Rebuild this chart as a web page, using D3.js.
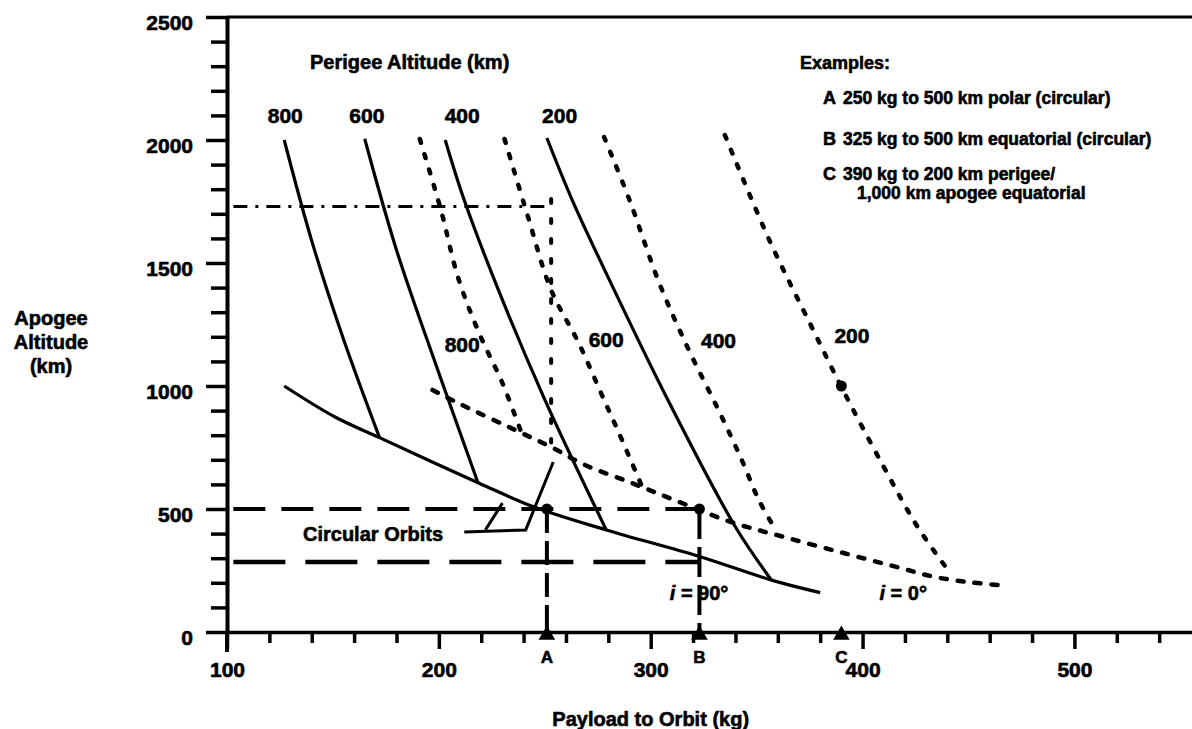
<!DOCTYPE html>
<html>
<head>
<meta charset="utf-8">
<script src="https://cdn.jsdelivr.net/npm/d3@7"></script>
<style>
  html, body { margin: 0; padding: 0; background: #fff; }
  svg { display: block; }
  text {
    font-family: "Liberation Sans", Arial, Helvetica, sans-serif;
    font-weight: bold; fill: #000;
    stroke: #000; stroke-width: 0.6px; paint-order: stroke;
  }
</style>
</head>
<body>
<svg id="chart" width="1192" height="729"></svg>
<script>
/* Payload to orbit vs apogee altitude: polar (solid) and equatorial (dotted) perigee curves */

// Perigee altitudes (km) labelling each family of curves
const perigees = [800, 600, 400, 200];

// Polar orbits (i = 90°), [payload kg, apogee km]
const polar800 = [[127, 2000], [140, 1590], [155, 1190], [172, 790]];
const polar600 = [[165, 2005], [180, 1553], [199.5, 1065], [218.5, 606]];
const polar400 = [[203, 2000], [212, 1755], [230, 1350], [250, 945], [279, 415]];
const polar200 = [[251, 2008], [263, 1755], [285, 1350], [308, 945], [340, 427], [357, 211]];
const polarCircular = [[127, 1000], [151, 874], [172, 790], [219, 605], [245, 508], [279, 415], [323, 307], [357, 211], [380, 160]];

// Equatorial orbits (i = 0°), [payload kg, apogee km]
const equat800 = [[191, 2004], [201, 1715], [209, 1443], [219, 1215], [230, 1012], [239, 809]];
const equat600 = [[231, 2004], [242, 1690], [253, 1390], [266, 1175], [278, 943], [285, 809], [296, 589]];
const equat400 = [[278, 2012], [290, 1756], [304, 1419], [318, 1146], [332, 902], [343, 699], [351, 537], [359, 415]];
const equat200 = [[335, 2020], [356, 1593], [376, 1240], [390, 996], [410, 671], [426, 427], [442, 232]];
const equatCircular = [[197, 984], [209, 931], [239, 809], [253, 752], [269, 679], [291, 606], [311, 537],
  [338, 447], [363, 386], [391, 321], [418, 260], [434, 224], [450, 203], [464, 191]];

// Worked examples: payload kg, altitude km
const exampleNames = ['A', 'B', 'C'];
const examplePayload = [251, 323, 390];
const exampleAltitude = [500, 500, 1000];
const exampleTexts = [
  ['250 kg to 500 km polar (circular)'],
  ['325 kg to 500 km equatorial (circular)'],
  ['390 kg to 200 km perigee/', '1,000 km apogee equatorial'],
];

// Reading guides
const guideDashDot = [[103, 1730], [253, 1730]];
const guideVertical = [[253, 1760], [253, 770]];
const guide500 = [[103, 500], [323, 500]];
const guide285 = [[103, 285], [323, 285]];

// "Circular Orbits" leader lines
const leaderMain = [[212, 407], [241, 415], [254, 691]];
const leaderShort = [[222, 415], [230, 524]];

// Label anchors [kg, km]
const topLabelAt = [[127.5, 2070], [166, 2070], [211, 2070], [257, 2070]];
const midLabelAt = [[211, 1140], [279, 1160], [332, 1156], [395, 1176]];

// Axis ticks
const yTicks = d3.range(0, 2501, 100);
const xTicks = d3.range(100, 541, 20);

const svg = d3.select('#chart');

const x = d3.scaleLinear().domain([100, 555.5]).range([227, 1192]);
const y = d3.scaleLinear().domain([0, 2500]).range([632, 17]);

const line = d3.line().x(d => x(d[0])).y(d => y(d[1])).curve(d3.curveCatmullRom.alpha(0.5));
const straight = d3.line().x(d => x(d[0])).y(d => y(d[1]));

// ============================================================
// Axes
// ============================================================

const gy = svg.append('g')
  .attr('transform', `translate(${x(100)},0)`)
  .call(d3.axisLeft(y).tickValues(yTicks).tickSizeInner(16).tickSizeOuter(0).tickPadding(18)
    .tickFormat(d => d % 500 === 0 ? d : ''));
gy.attr('font-family', null).attr('font-size', null);
gy.select('.domain').attr('stroke-width', 4);
gy.selectAll('.tick line').attr('stroke-width', 3.5);
gy.selectAll('.tick line').filter(d => d % 500 === 0).attr('x2', -21);
gy.selectAll('.tick text').attr('font-size', 21).attr('dy', '0.58em');
gy.append('line').attr('x1', 0).attr('x2', 0).attr('y1', y(0)).attr('y2', y(0) + 20)
  .attr('stroke', '#000').attr('stroke-width', 4);

const gx = svg.append('g')
  .attr('transform', `translate(0,${y(0)})`)
  .call(d3.axisBottom(x).tickValues(xTicks).tickSizeInner(11).tickSizeOuter(0)
    .tickFormat(d => d % 100 === 0 ? d : ''));
gx.attr('font-family', null).attr('font-size', null);
gx.select('.domain').attr('stroke-width', 3.5);
gx.selectAll('.tick line').attr('stroke-width', 3.5);
gx.selectAll('.tick line').filter(d => d % 100 === 0).attr('y2', 17);
gx.selectAll('.tick text').attr('font-size', 21).attr('y', 45).attr('dy', 0);

// top frame line
svg.append('line')
  .attr('x1', x(100)).attr('x2', x(555.5)).attr('y1', y(2500)).attr('y2', y(2500))
  .attr('stroke', '#000').attr('stroke-width', 3);

// axis titles
svg.append('text').attr('x', 51).attr('font-size', 20).attr('text-anchor', 'middle')
  .selectAll('tspan').data(['Apogee', 'Altitude', '(km)']).join('tspan')
  .attr('x', 51).attr('y', (d, i) => 325 + i * 24).text(d => d);

svg.append('text').attr('x', x(300)).attr('y', 726).attr('font-size', 20)
  .attr('text-anchor', 'middle').text('Payload to Orbit (kg)');

// ============================================================
// Curves
// ============================================================

const solidSets = [polar800, polar600, polar400, polar200, polarCircular];
const dottedSets = [equat800, equat600, equat400, equat200];

svg.append('g').selectAll('path').data(solidSets).join('path')
  .attr('d', line).attr('fill', 'none').attr('stroke', '#000').attr('stroke-width', 3.2)
  .attr('stroke-linejoin', 'round');

svg.append('g').selectAll('path').data(dottedSets).join('path')
  .attr('d', line).attr('fill', 'none').attr('stroke', '#000').attr('stroke-width', 4.5)
  .attr('stroke-dasharray', '4 12').attr('stroke-linecap', 'round');

svg.append('path').datum(equatCircular)
  .attr('d', line).attr('fill', 'none').attr('stroke', '#000').attr('stroke-width', 4.5)
  .attr('stroke-dasharray', '6 11').attr('stroke-linecap', 'round');

// ============================================================
// Guides and example markers
// ============================================================

const guides = [
  { pts: guideDashDot, w: 3, dash: '14 8 3 8', cap: 'butt' },
  { pts: guideVertical, w: 4, dash: '4 16', cap: 'round' },
  { pts: guide500, w: 4, dash: '32 16', cap: 'butt' },
  { pts: guide285, w: 4.5, dash: '52 20', cap: 'butt' },
  { pts: [[examplePayload[0], exampleAltitude[0]], [examplePayload[0], 0]], w: 4, dash: '24 8', cap: 'butt' },
  { pts: [[examplePayload[1], exampleAltitude[1]], [examplePayload[1], 0]], w: 4, dash: '30 8', cap: 'butt' },
];
svg.append('g').selectAll('path').data(guides).join('path')
  .attr('d', d => straight(d.pts)).attr('fill', 'none').attr('stroke', '#000')
  .attr('stroke-width', d => d.w).attr('stroke-dasharray', d => d.dash)
  .attr('stroke-linecap', d => d.cap);

svg.append('g').selectAll('path').data([leaderMain, leaderShort]).join('path')
  .attr('d', straight).attr('fill', 'none').attr('stroke', '#000').attr('stroke-width', 3);

svg.append('g').selectAll('circle').data(examplePayload).join('circle')
  .attr('cx', d => x(d)).attr('cy', (d, i) => y(exampleAltitude[i])).attr('r', 5.5).attr('fill', '#000');

svg.append('g').selectAll('path').data(examplePayload).join('path')
  .attr('d', d3.symbol(d3.symbolTriangle, 120))
  .attr('transform', d => `translate(${x(d)},${y(0) + 3})`).attr('fill', '#000');

svg.append('g').selectAll('text').data(exampleNames).join('text')
  .attr('x', (d, i) => x(examplePayload[i])).attr('y', y(0) + 31)
  .attr('font-size', 17).attr('text-anchor', 'middle').text(d => d);

// ============================================================
// Labels
// ============================================================

svg.append('text').attr('x', 310).attr('y', 69).attr('font-size', 20).text('Perigee Altitude (km)');

svg.append('g').selectAll('text').data(perigees).join('text')
  .attr('x', (d, i) => x(topLabelAt[i][0])).attr('y', (d, i) => y(topLabelAt[i][1]))
  .attr('font-size', 21).attr('text-anchor', 'middle').text(d => d);

svg.append('g').selectAll('text').data(perigees).join('text')
  .attr('x', (d, i) => x(midLabelAt[i][0])).attr('y', (d, i) => y(midLabelAt[i][1]))
  .attr('font-size', 21).attr('text-anchor', 'middle').text(d => d);

svg.append('text').attr('x', 800).attr('y', 69).attr('font-size', 18).text('Examples:');
const exRowY = [104, 145, 180];
exampleNames.forEach((name, i) => {
  svg.append('text').attr('x', 823).attr('y', exRowY[i]).attr('font-size', 18).text(name);
  exampleTexts[i].forEach((t, j) => {
    svg.append('text').attr('x', j === 0 ? 843 : 857).attr('y', exRowY[i] + j * 19)
      .attr('font-size', 17.5).text(t);
  });
});

svg.append('text').attr('x', 303).attr('y', 541).attr('font-size', 20).text('Circular Orbits');

const incl = [{ at: [309, 130], v: '90°' }, { at: [408, 130], v: '0°' }];
incl.forEach(d => {
  const t = svg.append('text').attr('x', x(d.at[0])).attr('y', y(d.at[1])).attr('font-size', 20);
  t.append('tspan').attr('font-style', 'italic').text('i');
  t.append('tspan').text(' = ' + d.v);
});
</script>
</body>
</html>
